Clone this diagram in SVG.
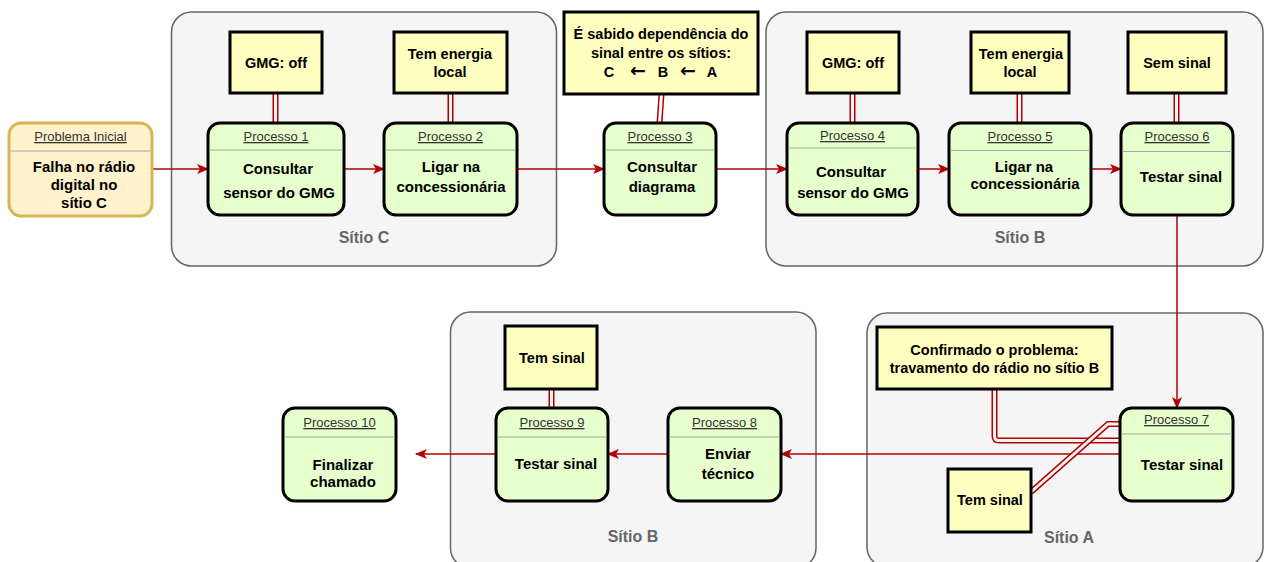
<svg xmlns="http://www.w3.org/2000/svg" width="1264" height="562" viewBox="0 0 1264 562">
<style>
.cont{fill:#f5f5f5;stroke:#666;stroke-width:1.5}
.clab{font-family:"Liberation Sans",Arial,sans-serif;font-weight:bold;font-size:16px;fill:#666;text-anchor:middle}
.proc{fill:#e6ffcc;stroke:#000;stroke-width:3}
.start{fill:#fff2cc;stroke:#d6b656;stroke-width:3}
.div{stroke:#a6a6a6;stroke-width:1}
.hdr{font-family:"Liberation Sans",Arial,sans-serif;font-size:13px;fill:#333;text-anchor:middle;text-decoration:underline}
.body{font-family:"Liberation Sans",Arial,sans-serif;font-weight:bold;font-size:15px;fill:#000;text-anchor:middle}
.note{fill:#ffffc0;stroke:#000;stroke-width:3}
.ntxt{font-family:"Liberation Sans",Arial,sans-serif;font-weight:bold;font-size:14.5px;fill:#000;text-anchor:middle}
.sym{font-family:"DejaVu Sans",sans-serif;font-weight:bold;font-size:19px}
.arr{fill:none;stroke:#b20000;stroke-width:1.5;marker-end:url(#ah)}
.lo{fill:none;stroke:#b20000;stroke-width:6}
.li{fill:none;stroke:#f5f5f5;stroke-width:3}
.liw{fill:none;stroke:#ffffff;stroke-width:3}
</style>
<defs>
<marker id="ah" markerUnits="userSpaceOnUse" markerWidth="12" markerHeight="10" refX="11" refY="5" orient="auto">
<path d="M0,0 L12,5 L0,10 L3,5 Z" fill="#b20000"/>
</marker>
</defs>

<g id="containers">
<g id="sitioC"><rect class="cont" x="171.5" y="12" width="385" height="254" rx="20"/><text class="clab" x="364" y="243">Sítio C</text></g>
<g id="sitioB1"><rect class="cont" x="766" y="12" width="497" height="254" rx="20"/><text class="clab" x="1020" y="243">Sítio B</text></g>
<g id="sitioB2"><rect class="cont" x="450.5" y="312" width="365.5" height="256" rx="20"/><text class="clab" x="633" y="542">Sítio B</text></g>
<g id="sitioA"><rect class="cont" x="867" y="313" width="396" height="254" rx="20"/><text class="clab" x="1069" y="543">Sítio A</text></g>
</g>

<g id="connectors">
<path class="arr" d="M152,169 H208"/>
<path class="arr" d="M344,169 H384"/>
<path class="arr" d="M517,169 H604"/>
<path class="arr" d="M716,169 H787"/>
<path class="arr" d="M918,169 H949"/>
<path class="arr" d="M1091,169 H1121"/>
<path class="arr" d="M1177,215 V408"/>
<path class="arr" d="M1120,454 H781"/>
<path class="arr" d="M668,454 H608"/>
<path class="arr" d="M496,454 H416"/>
<path class="lo" d="M275.5,93 V123"/><path class="li" d="M275.5,93 V123"/>
<path class="lo" d="M450.5,93 V123"/><path class="li" d="M450.5,93 V123"/>
<path class="lo" d="M661.5,94 L659.5,123"/><path class="liw" d="M661.5,94 L659.5,123"/>
<path class="lo" d="M852.5,93 V123"/><path class="li" d="M852.5,93 V123"/>
<path class="lo" d="M1019.5,93 V123"/><path class="li" d="M1019.5,93 V123"/>
<path class="lo" d="M1176.5,93 V123"/><path class="li" d="M1176.5,93 V123"/>
<path class="lo" d="M551.5,389 V408"/><path class="li" d="M551.5,389 V408"/>
<path class="lo" d="M994.5,389 V436 Q994.5,440.5 999,440.5 H1120"/><path class="li" d="M994.5,389 V436 Q994.5,440.5 999,440.5 H1120"/>
<path class="lo" d="M1031,492 L1108,424 H1120"/><path class="li" d="M1031,492 L1108,424 H1120"/>
</g>

<g id="problema_inicial">
<rect class="start" x="9" y="123" width="143" height="93" rx="12"/>
<line class="div" x1="10.5" y1="151" x2="150.5" y2="151"/>
<text class="hdr" x="80.5" y="141">Problema Inicial</text>
<text class="body" x="84" y="172">Falha no rádio</text>
<text class="body" x="84" y="190">digital no</text>
<text class="body" x="84" y="208">sítio C</text>
</g>

<g id="processo1">
<rect class="proc" x="208" y="123" width="136" height="92" rx="12"/>
<line class="div" x1="209.5" y1="150" x2="342.5" y2="150"/>
<text class="hdr" x="276" y="141">Processo 1</text>
<text class="body" x="278" y="174">Consultar</text>
<text class="body" x="279" y="198">sensor do GMG</text>
</g>

<g id="processo2">
<rect class="proc" x="384" y="123" width="133" height="92" rx="12"/>
<line class="div" x1="385.5" y1="150" x2="515.5" y2="150"/>
<text class="hdr" x="450.5" y="141">Processo 2</text>
<text class="body" x="451" y="172">Ligar na</text>
<text class="body" x="451" y="192">concessionária</text>
</g>

<g id="processo3">
<rect class="proc" x="604" y="123" width="112" height="92" rx="12"/>
<line class="div" x1="605.5" y1="150" x2="714.5" y2="150"/>
<text class="hdr" x="660" y="141">Processo 3</text>
<text class="body" x="662" y="172">Consultar</text>
<text class="body" x="662" y="192">diagrama</text>
</g>

<g id="processo4">
<rect class="proc" x="787" y="123" width="131" height="92" rx="12"/>
<line class="div" x1="788.5" y1="148" x2="916.5" y2="148"/>
<text class="hdr" x="852.5" y="140">Processo 4</text>
<text class="body" x="851" y="177">Consultar</text>
<text class="body" x="853" y="198">sensor do GMG</text>
</g>

<g id="processo5">
<rect class="proc" x="949" y="123" width="142" height="92" rx="12"/>
<line class="div" x1="950.5" y1="150.5" x2="1089.5" y2="150.5"/>
<text class="hdr" x="1020" y="141">Processo 5</text>
<text class="body" x="1024" y="172">Ligar na</text>
<text class="body" x="1025" y="189">concessionária</text>
</g>

<g id="processo6">
<rect class="proc" x="1121" y="123" width="112" height="92" rx="12"/>
<line class="div" x1="1122.5" y1="151.5" x2="1231.5" y2="151.5"/>
<text class="hdr" x="1177" y="141">Processo 6</text>
<text class="body" x="1181" y="182">Testar sinal</text>
</g>

<g id="processo7">
<rect class="proc" x="1120" y="408" width="113" height="93" rx="12"/>
<line class="div" x1="1121.5" y1="434" x2="1231.5" y2="434"/>
<text class="hdr" x="1176.5" y="424">Processo 7</text>
<text class="body" x="1182" y="470">Testar sinal</text>
</g>

<g id="processo8">
<rect class="proc" x="668" y="408" width="113" height="93" rx="12"/>
<line class="div" x1="669.5" y1="437" x2="779.5" y2="437"/>
<text class="hdr" x="724.5" y="427">Processo 8</text>
<text class="body" x="728" y="459">Enviar</text>
<text class="body" x="728" y="479">técnico</text>
</g>

<g id="processo9">
<rect class="proc" x="496" y="408" width="112" height="93" rx="12"/>
<line class="div" x1="497.5" y1="437" x2="606.5" y2="437"/>
<text class="hdr" x="552" y="427">Processo 9</text>
<text class="body" x="556" y="469">Testar sinal</text>
</g>

<g id="processo10">
<rect class="proc" x="283" y="408" width="113" height="93" rx="12"/>
<line class="div" x1="284.5" y1="437" x2="394.5" y2="437"/>
<text class="hdr" x="339.5" y="427">Processo 10</text>
<text class="body" x="343" y="470">Finalizar</text>
<text class="body" x="343" y="487">chamado</text>
</g>

<g id="nota_gmg_c">
<rect class="note" x="230" y="32" width="92" height="61"/>
<text class="ntxt" x="276" y="68">GMG: off</text>
</g>
<g id="nota_energia_c">
<rect class="note" x="394" y="32" width="113" height="61"/>
<text class="ntxt" x="450" y="59">Tem energia</text>
<text class="ntxt" x="450" y="77">local</text>
</g>
<g id="nota_sabido">
<rect class="note" x="564" y="12" width="194" height="82"/>
<text class="ntxt" x="661" y="39">É sabido dependência do</text>
<text class="ntxt" x="661" y="58">sinal entre os sítios:</text>
<text class="ntxt" x="661" y="77"><tspan x="609">C</tspan><tspan class="sym" x="638">←</tspan><tspan x="663">B</tspan><tspan class="sym" x="688">←</tspan><tspan x="712">A</tspan></text>
</g>
<g id="nota_gmg_b">
<rect class="note" x="807" y="32" width="92" height="61"/>
<text class="ntxt" x="853" y="68">GMG: off</text>
</g>
<g id="nota_energia_b">
<rect class="note" x="971" y="32" width="98" height="61"/>
<text class="ntxt" x="1021" y="59">Tem energia</text>
<text class="ntxt" x="1020" y="77">local</text>
</g>
<g id="nota_sem_sinal">
<rect class="note" x="1128" y="32" width="98" height="61"/>
<text class="ntxt" x="1177" y="68">Sem sinal</text>
</g>
<g id="nota_confirmado">
<rect class="note" x="877" y="327" width="235" height="62"/>
<text class="ntxt" x="994.5" y="355">Confirmado o problema:</text>
<text class="ntxt" x="994.5" y="373">travamento do rádio no sítio B</text>
</g>
<g id="nota_tem_sinal_a">
<rect class="note" x="948" y="469" width="83" height="63"/>
<text class="ntxt" x="990" y="505">Tem sinal</text>
</g>
<g id="nota_tem_sinal_b">
<rect class="note" x="505" y="326" width="92" height="63"/>
<text class="ntxt" x="552" y="363">Tem sinal</text>
</g>
</svg>
